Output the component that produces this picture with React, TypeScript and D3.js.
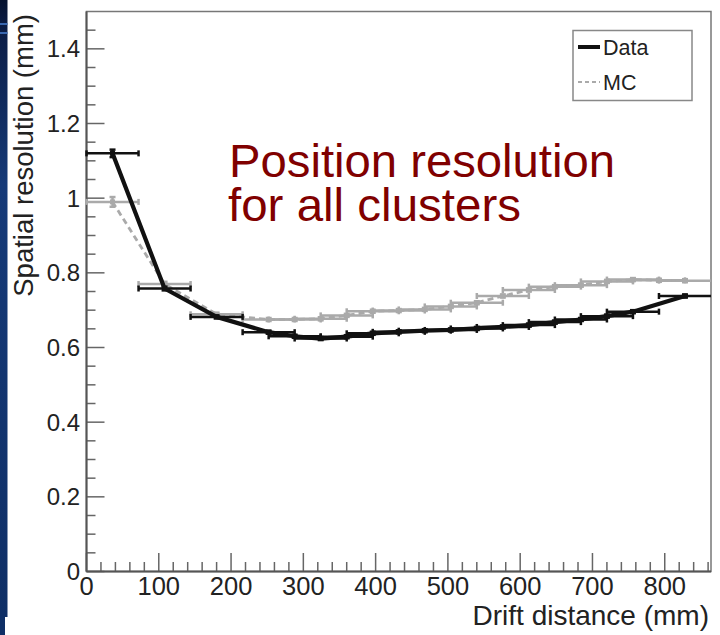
import React from "react";
import * as d3 from "d3";

const W = 720;
const H = 635;

const xMax = 864;
const yMax = 1.5;
const xTickValues = [0, 100, 200, 300, 400, 500, 600, 700, 800];
const xTickLabels = ["0", "100", "200", "300", "400", "500", "600", "700", "800"];
const yTickValues = [0, 0.2, 0.4, 0.6, 0.8, 1.0, 1.2, 1.4];
const yTickLabels = ["0", "0.2", "0.4", "0.6", "0.8", "1", "1.2", "1.4"];

const dataX = [36, 108, 180, 252, 288, 324, 360, 396, 432, 468, 504, 540, 576, 612, 648, 684, 720, 756, 828];
const dataY = [1.12, 0.758, 0.682, 0.641, 0.63, 0.624, 0.629, 0.638, 0.642, 0.645, 0.647, 0.651, 0.655, 0.66, 0.668, 0.675, 0.684, 0.696, 0.738];
const dataEx = 36;
const dataEy = [0.01, 0.005, 0.004, 0.004, 0.004, 0.004, 0.004, 0.004, 0.004, 0.004, 0.004, 0.004, 0.004, 0.004, 0.004, 0.004, 0.004, 0.004, 0.004];

const mcX = [36, 108, 180, 252, 288, 324, 360, 396, 432, 468, 504, 540, 576, 612, 648, 684, 720, 756, 792, 828];
const mcY = [0.99, 0.77, 0.689, 0.675, 0.675, 0.677, 0.686, 0.697, 0.699, 0.702, 0.71, 0.72, 0.738, 0.754, 0.763, 0.767, 0.777, 0.782, 0.78, 0.779];
const mcEx = 36;
const mcEy = [0.013, 0.006, 0.004, 0.004, 0.004, 0.004, 0.004, 0.004, 0.004, 0.004, 0.004, 0.004, 0.004, 0.004, 0.004, 0.004, 0.004, 0.004, 0.004, 0.004];

const FONT = "'Liberation Sans', Arial, Helvetica, sans-serif";

export default function App() {
  const x = d3.scaleLinear().domain([0, xMax]).range([86.5, 711]);
  const y = d3.scaleLinear().domain([0, yMax]).range([571.5, 11.5]);

  const xMinor = d3.range(0, xMax + 1, 20).filter((v) => v % 100 !== 0);
  const yMinor = d3.range(0, 30).map((i) => i * 0.05).filter((v, i) => i % 4 !== 0 && v <= yMax);

  const dataLine = d3
    .line<number>()
    .x((_, i) => x(dataX[i]))
    .y((d) => y(d))(dataY) as string;
  const mcLine = d3
    .line<number>()
    .x((_, i) => x(mcX[i]))
    .y((d) => y(d))(mcY) as string;

  const errBars = (xs: number[], ys: number[], ex: number, eys: number[], color: string, key: string) =>
    xs.map((xv, i) => {
      const cx = x(xv);
      const cy = y(ys[i]);
      const x0 = x(Math.max(0, xv - ex));
      const x1 = Math.min(x(xv + ex), 711);
      const y0 = y(ys[i] - eys[i]);
      const y1 = y(ys[i] + eys[i]);
      return (
        <g key={key + i} stroke={color} strokeWidth={2.5} fill="none">
          <line x1={x0} x2={x1} y1={cy} y2={cy} />
          <line x1={x0} x2={x0} y1={cy - 3} y2={cy + 3} />
          {x1 < 710 && <line x1={x1} x2={x1} y1={cy - 3} y2={cy + 3} />}
          <line x1={cx} x2={cx} y1={y0} y2={y1} />
          <line x1={cx - 3} x2={cx + 3} y1={y0} y2={y0} />
          <line x1={cx - 3} x2={cx + 3} y1={y1} y2={y1} />
          <rect x={cx - 2.5} y={cy - 2.5} width={5} height={5} fill={color} stroke="none" />
        </g>
      );
    });

  return (
    <svg
      width={W}
      height={H}
      style={{ position: "absolute", left: 0, top: 0, background: "#fff" }}
      fontFamily={FONT}
    >
      <defs>
        <linearGradient id="strip" x1="0" y1="0" x2="0" y2="1">
          <stop offset="0" stopColor="#06122e" />
          <stop offset="0.04" stopColor="#0b1c44" />
          <stop offset="0.3" stopColor="#163a78" />
          <stop offset="1" stopColor="#0f2f66" />
        </linearGradient>
      </defs>
      <rect x={0} y={0} width={W} height={H} fill="#fff" />
      <rect x={0} y={0} width={7.5} height={617} fill="url(#strip)" />
      <rect x={0} y={617} width={5} height={18} fill="#0f2f66" />
      <rect x={0} y={23} width={7.5} height={2} fill="#3a68b0" />
      <rect x={0} y={32} width={7.5} height={2} fill="#3a68b0" />

      {/* frame */}
      <rect x={86.5} y={11.5} width={624.5} height={560} fill="none" stroke="#777" strokeWidth={1.5} />

      {/* ticks */}
      <g stroke="#666" strokeWidth={1.5}>
        {yTickValues.map((v) => (
          <line key={"ym" + v} x1={86.5} x2={104.5} y1={y(v)} y2={y(v)} />
        ))}
        {yMinor.map((v) => (
          <line key={"yn" + v} x1={86.5} x2={95.5} y1={y(v)} y2={y(v)} />
        ))}
        {xTickValues.map((v) => (
          <line key={"xm" + v} x1={x(v)} x2={x(v)} y1={571.5} y2={553} />
        ))}
        {xMinor.map((v) => (
          <line key={"xn" + v} x1={x(v)} x2={x(v)} y1={571.5} y2={562} />
        ))}
      </g>
      <line x1={86.5} x2={86.5} y1={11.5} y2={571.5} stroke="#555" strokeWidth={2} />
      <line x1={86.5} x2={711} y1={571.5} y2={571.5} stroke="#555" strokeWidth={2} />

      {/* tick labels */}
      <g fill="#222" fontSize={24}>
        {yTickValues.map((v, i) => (
          <text key={"yl" + v} x={80} y={y(v)} dy="0.36em" textAnchor="end">
            {yTickLabels[i]}
          </text>
        ))}
      </g>
      <g fill="#222" fontSize={25.5}>
        {xTickValues.map((v, i) => (
          <text key={"xl" + v} x={x(v)} y={595} textAnchor="middle">
            {xTickLabels[i]}
          </text>
        ))}
      </g>

      {/* axis titles */}
      <text x={709} y={625} textAnchor="end" fontSize={28} fill="#222">
        Drift distance (mm)
      </text>
      <text
        transform="translate(33,14) rotate(-90)"
        textAnchor="end"
        fontSize={27.5}
        fill="#222"
      >
        Spatial resolution (mm)
      </text>

      {/* MC */}
      {errBars(mcX, mcY, mcEx, mcEy, "#aaa", "mc")}
      <path d={mcLine} fill="none" stroke="#aaa" strokeWidth={2.8} strokeDasharray="6,4" />

      {/* Data */}
      {errBars(dataX, dataY, dataEx, dataEy, "#111", "da")}
      <path d={dataLine} fill="none" stroke="#111" strokeWidth={4.2} strokeLinejoin="round" />

      {/* annotation */}
      <g fill="#800000" fontSize={46}>
        <text x={229} y={177} textLength={386} lengthAdjust="spacingAndGlyphs">Position resolution</text>
        <text x={228} y={221} textLength={293} lengthAdjust="spacingAndGlyphs">for all clusters</text>
      </g>

      {/* legend */}
      <rect x={573} y={30.5} width={119} height={70} fill="#fff" stroke="#888" strokeWidth={1.5} />
      <line x1={578} x2={600} y1={47} y2={47} stroke="#111" strokeWidth={4} />
      <text x={603} y={55} fontSize={21.5} fill="#222">
        Data
      </text>
      <line x1={578} x2={600} y1={82} y2={82} stroke="#aaa" strokeWidth={2} strokeDasharray="4,3" />
      <text x={603} y={90} fontSize={21.5} fill="#222">
        MC
      </text>
    </svg>
  );
}
